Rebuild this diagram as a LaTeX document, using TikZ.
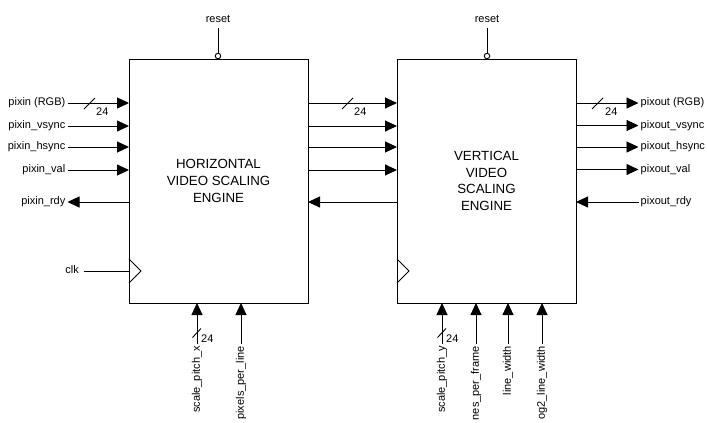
\documentclass[tikz,border=0pt]{standalone}
\usepackage{fontspec}
\setmainfont{Liberation Sans}
\usetikzlibrary{arrows.meta}
\begin{document}
\begin{tikzpicture}[x=1pt,y=-1pt,
  wire/.style={line width=0.9pt, draw=black},
  sig/.style={wire, -{Triangle[length=12pt,width=11pt]}},
  lbl/.style={font=\fontsize{11}{13}\selectfont, inner sep=2pt, text height=8pt, text depth=2.5pt},
  vlbl/.style={lbl, rotate=90, anchor=east},
  busw/.style={font=\fontsize{11}{13}\selectfont, inner sep=0pt, anchor=north west},
  blk/.style={draw, line width=1pt, minimum width=179pt, minimum height=244pt, inner sep=0pt, align=center, font=\fontsize{13.3}{16.6}\selectfont},
  rstc/.style={circle, draw, line width=0.9pt, fill=white, inner sep=0pt, minimum size=5.5pt},
]
\useasboundingbox (0,0) rectangle (707,423);

% blocks
\node[blk] (hb) at (218.5,181) {HORIZONTAL\\VIDEO SCALING\\ENGINE};
\node[blk] (vb) at (486.5,181) {VERTICAL\\VIDEO\\SCALING\\ENGINE};

% clock triangles
\draw[line width=0.8pt] (129,259) -- (141,271) -- (129,283);
\draw[line width=0.8pt] (397,259) -- (409,271) -- (397,283);

% resets
\node[lbl, anchor=base] (hrst) at (218,23) {reset};
\node[rstc] (hrc) at (218,56) {};
\draw[wire] (hrst.south) -- (hrc.north);
\node[lbl, anchor=base] (vrst) at (487,23) {reset};
\node[rstc] (vrc) at (487,56) {};
\draw[wire] (vrst.south) -- (vrc.north);

% ports of horizontal block
\coordinate (hi1) at (129,103);
\coordinate (hi2) at (129,126);
\coordinate (hi3) at (129,147);
\coordinate (hi4) at (129,170);
\coordinate (hi5) at (129,202);
\coordinate (hclk) at (129,271);
\coordinate (ho1) at (308,103);
\coordinate (ho2) at (308,126);
\coordinate (ho3) at (308,147);
\coordinate (ho4) at (308,170);
\coordinate (ho5) at (308,202);
\coordinate (hb1) at (197,303);
\coordinate (hb2) at (241,303);

% ports of vertical block
\coordinate (vi1) at (397,103);
\coordinate (vi2) at (397,126);
\coordinate (vi3) at (397,147);
\coordinate (vi4) at (397,170);
\coordinate (vi5) at (397,202);
\coordinate (vo1) at (576,103);
\coordinate (vo2) at (576,125.5);
\coordinate (vo3) at (576,147);
\coordinate (vo4) at (576,169.5);
\coordinate (vo5) at (576,202);
\coordinate (vb1) at (442,303);
\coordinate (vb2) at (476,303);
\coordinate (vb3) at (508,303);
\coordinate (vb4) at (542,303);

% left inputs
\node[lbl, anchor=east] (pin) at (67.5,103) {pixin (RGB)};
\node[lbl, anchor=east] (pvs) at (67.5,126) {pixin\_vsync};
\node[lbl, anchor=east] (phs) at (67.5,147) {pixin\_hsync};
\node[lbl, anchor=east] (pva) at (67.5,170) {pixin\_val};
\node[lbl, anchor=east] (prd) at (67.5,202) {pixin\_rdy};
\node[lbl, anchor=east, inner xsep=5pt] (clk) at (84,271) {clk};
\draw[sig] (pin.east) -- (hi1);
\draw[sig] (pvs.east) -- (hi2);
\draw[sig] (phs.east) -- (hi3);
\draw[sig] (pva.east) -- (hi4);
\draw[sig] (hi5) -- (prd.east);
\draw[wire] (clk.east) -- (hclk);
\draw[wire] (84,109) -- (95,98);
\node[busw] (bw1) at (96,107.5) {24};

% middle connections
\draw[sig] (ho1) -- (vi1);
\draw[sig] (ho2) -- (vi2);
\draw[sig] (ho3) -- (vi3);
\draw[sig] (ho4) -- (vi4);
\draw[sig] (vi5) -- (ho5);
\draw[wire] (342,109) -- (353,98);
\node[busw] (bw2) at (354,107.5) {24};

% right outputs
\node[lbl, anchor=west] (pout) at (638.5,103) {pixout (RGB)};
\node[lbl, anchor=west] (povs) at (638.5,125.5) {pixout\_vsync};
\node[lbl, anchor=west] (pohs) at (638.5,147) {pixout\_hsync};
\node[lbl, anchor=west] (pova) at (638.5,169.5) {pixout\_val};
\node[lbl, anchor=west] (pord) at (638.5,202) {pixout\_rdy};
\draw[sig] (vo1) -- (pout.west);
\draw[sig] (vo2) -- (povs.west);
\draw[sig] (vo3) -- (pohs.west);
\draw[sig] (vo4) -- (pova.west);
\draw[sig] (pord.west) -- (vo5);
\draw[wire] (592,109) -- (603,98);
\node[busw] (bw3) at (605,107.5) {24};

% bottom inputs, horizontal block
\node[vlbl] (spx) at (197,344) {scale\_pitch\_x};
\node[vlbl] (ppl) at (241,344) {pixels\_per\_line};
\draw[sig] (spx.east) -- (hb1);
\draw[sig] (ppl.east) -- (hb2);
\draw[wire] (192.5,337.5) -- (201,328.5);
\node[busw] (bw4) at (201,335) {24};

% bottom inputs, vertical block
\node[vlbl] (spy) at (442,344) {scale\_pitch\_y};
\node[vlbl] (npf) at (476,344) {nes\_per\_frame};
\node[vlbl] (lwd) at (508,344) {line\_width};
\node[vlbl] (olw) at (542,344) {og2\_line\_width};
\draw[sig] (spy.east) -- (vb1);
\draw[sig] (npf.east) -- (vb2);
\draw[sig] (lwd.east) -- (vb3);
\draw[sig] (olw.east) -- (vb4);
\draw[wire] (437.5,337.5) -- (446,328.5);
\node[busw] (bw5) at (446,335) {24};
\end{tikzpicture}
\end{document}
